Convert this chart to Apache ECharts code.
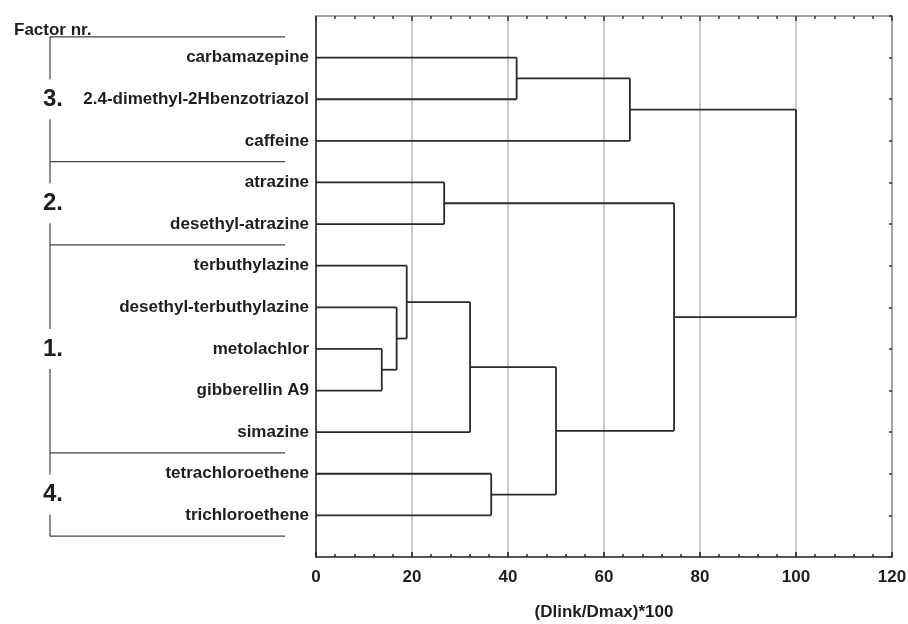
<!DOCTYPE html>
<html><head><meta charset="utf-8">
<script src="https://cdn.jsdelivr.net/npm/echarts@6/dist/echarts.min.js"></script>
<style>html,body{margin:0;padding:0;background:#fff}#c{width:908px;height:624px}</style>
</head><body><div id="c"></div>
<script>
// Leaves, top to bottom
const leaves = ['carbamazepine','2.4-dimethyl-2Hbenzotriazol','caffeine','atrazine','desethyl-atrazine',
  'terbuthylazine','desethyl-terbuthylazine','metolachlor','gibberellin A9','simazine',
  'tetrachloroethene','trichloroethene'];
// Merge steps: ids 0..11 are leaves, merge k creates id 12+k
const mergeA = [7, 6, 5, 3, 14, 10, 0, 16, 18, 15, 20];
const mergeB = [8, 12, 13, 4, 9, 11, 1, 17, 2, 19, 21];
const mergeHeight = [13.7, 16.8, 18.9, 26.7, 32.1, 36.5, 41.8, 50, 65.4, 74.6, 100];
// Factor groups (top to bottom) and number of leaves in each
const factorNames = ['3.', '2.', '1.', '4.'];
const factorSizes = [3, 2, 5, 2];
const xTicks = [0, 20, 40, 60, 80, 100, 120];

const FONT = "'Liberation Sans',Arial,sans-serif";

// Build dendrogram segments
const nodeY = leaves.map((_, i) => i + 1);
const nodeH = leaves.map(() => 0);
const segs = [];
mergeA.forEach((a, k) => {
  const b = mergeB[k], h = mergeHeight[k];
  segs.push([nodeH[a], nodeY[a], h, nodeY[a]]);
  segs.push([nodeH[b], nodeY[b], h, nodeY[b]]);
  segs.push([h, nodeY[a], h, nodeY[b]]);
  nodeY.push((nodeY[a] + nodeY[b]) / 2);
  nodeH.push(h);
});

// Factor group data
const factorData = [];
let start = 0.5;
factorSizes.forEach((n, i) => {
  factorData.push([start, start + n, start + n / 2, i]);
  start += n;
});

const chart = echarts.init(document.getElementById('c'));
chart.setOption({
  animation: false,
  title: { text: 'Factor nr.', left: 9, top: 17,
    textStyle: { fontFamily: FONT, fontWeight: 'bold', fontSize: 17, color: '#1e1e1e' } },
  grid: [
    { left: 316, right: 16, top: 16, bottom: 67, outerBoundsMode: 'none', containLabel: false },
    { left: 50, width: 235, top: 16, bottom: 67, outerBoundsMode: 'none', containLabel: false }
  ],
  xAxis: [
    { gridIndex: 0, type: 'value', position: 'bottom', min: 0, max: 120, interval: 20,
      axisLine: { onZero: false, lineStyle: { color: '#222', width: 1.5 } },
      axisTick: { inside: true, length: 5, lineStyle: { color: '#222', width: 1.5 } },
      minorTick: { show: true, splitNumber: 5, length: 3, lineStyle: { color: '#222', width: 1.5 } },
      splitLine: { show: true, lineStyle: { color: '#b8b8b8', width: 1.5 } },
      axisLabel: { fontFamily: FONT, fontWeight: 'bold', fontSize: 17, color: '#1e1e1e', margin: 12 },
      name: '(Dlink/Dmax)*100', nameLocation: 'middle', nameGap: 47,
      nameTextStyle: { fontFamily: FONT, fontWeight: 'bold', fontSize: 17, color: '#1e1e1e' } },
    { gridIndex: 0, type: 'value', position: 'top', min: 0, max: 120, interval: 20,
      axisLine: { onZero: false, lineStyle: { color: '#888', width: 1.5 } },
      axisTick: { inside: true, length: 5, lineStyle: { color: '#333', width: 1.5 } },
      minorTick: { show: true, splitNumber: 5, length: 3, lineStyle: { color: '#333', width: 1.5 } },
      splitLine: { show: false }, axisLabel: { show: false } },
    { gridIndex: 1, type: 'value', min: 0, max: 1, show: false }
  ],
  yAxis: [
    { gridIndex: 0, type: 'value', position: 'left', min: 0, max: 13, interval: 1, inverse: true,
      axisLine: { onZero: false, lineStyle: { color: '#222', width: 1.5 } },
      axisTick: { show: false }, splitLine: { show: false },
      axisLabel: { fontFamily: FONT, fontWeight: 'bold', fontSize: 17, color: '#1e1e1e', margin: 7,
        formatter: v => leaves[v - 1] || '' } },
    { gridIndex: 0, type: 'value', position: 'right', min: 0, max: 13, interval: 1, inverse: true,
      axisLine: { onZero: false, lineStyle: { color: '#999', width: 1.5 } },
      axisTick: { inside: true, length: 3, lineStyle: { color: '#333', width: 1.5 } },
      splitLine: { show: false }, axisLabel: { show: false } },
    { gridIndex: 1, type: 'value', min: 0, max: 13, inverse: true, show: false }
  ],
  series: [
    { type: 'custom', xAxisIndex: 0, yAxisIndex: 0, data: segs,
      renderItem: (params, api) => {
        const p1 = api.coord([api.value(0), api.value(1)]);
        const p2 = api.coord([api.value(2), api.value(3)]);
        return { type: 'line', shape: { x1: p1[0], y1: p1[1], x2: p2[0], y2: p2[1] },
          style: { stroke: '#2a2a2a', lineWidth: 1.8 } };
      } },
    { type: 'custom', xAxisIndex: 2, yAxisIndex: 2, data: factorData,
      renderItem: (params, api) => {
        const top = api.value(0), bot = api.value(1), mid = api.value(2), idx = api.value(3);
        const pt = api.coord([0, top]), pb = api.coord([0, bot]), pm = api.coord([0, mid]);
        const pr = api.coord([1, top]), prb = api.coord([1, bot]);
        const gap = 20;
        const st = { stroke: '#444', lineWidth: 1.2 };
        const children = [
          { type: 'line', shape: { x1: pt[0], y1: pt[1], x2: pr[0], y2: pr[1] }, style: st },
          { type: 'line', shape: { x1: pt[0], y1: pt[1], x2: pm[0], y2: pm[1] - gap }, style: st },
          { type: 'line', shape: { x1: pm[0], y1: pm[1] + gap, x2: pb[0], y2: pb[1] }, style: st },
          { type: 'text', x: pm[0] + 3, y: pm[1],
            style: { text: factorNames[idx], fontFamily: FONT, fontWeight: 'bold', fontSize: 24,
              fill: '#1e1e1e', align: 'center', verticalAlign: 'middle' } }
        ];
        if (idx === factorSizes.length - 1) {
          children.push({ type: 'line', shape: { x1: pb[0], y1: pb[1], x2: prb[0], y2: prb[1] }, style: st });
        }
        return { type: 'group', children };
      } }
  ]
});
</script>
</body></html>
